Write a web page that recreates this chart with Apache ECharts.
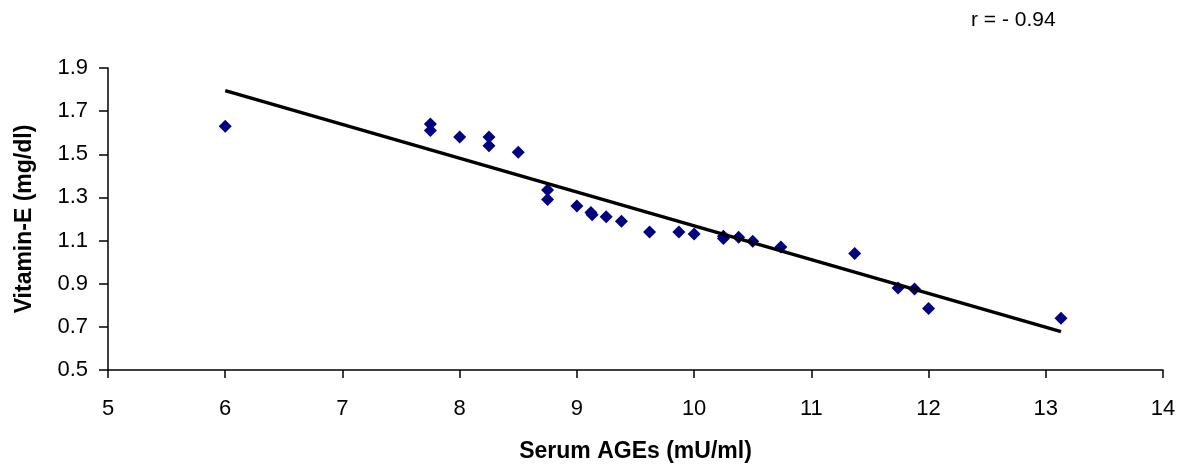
<!DOCTYPE html>
<html>
<head>
<meta charset="utf-8">
<script src="https://cdn.jsdelivr.net/npm/echarts@6/dist/echarts.min.js"></script>
<style>
html,body{margin:0;padding:0;background:#fff;}
#chart{width:1183px;height:468px;}
</style>
</head>
<body>
<div id="chart"></div>
<script>
// Serum AGEs (mU/ml)
var agesValues = [6.0, 7.75, 7.75, 8.0, 8.25, 8.25, 8.5, 8.75, 8.75, 9.0, 9.12, 9.13, 9.25, 9.38, 9.62, 9.87, 10.0, 10.25, 10.25, 10.38, 10.5, 10.74, 11.37, 11.74, 11.88, 12.0, 13.13];
// Vitamin-E (mg/dl)
var vitaminEValues = [1.63, 1.64, 1.61, 1.58, 1.58, 1.54, 1.51, 1.335, 1.29, 1.26, 1.23, 1.22, 1.21, 1.19, 1.14, 1.14, 1.13, 1.12, 1.11, 1.115, 1.097, 1.07, 1.04, 0.88, 0.875, 0.785, 0.74];
// Trend line end points
var trendX = [6.0, 13.13];
var trendY = [1.795, 0.678];
var xTicks = [5, 6, 7, 8, 9, 10, 11, 12, 13, 14];
var yTicks = [0.5, 0.7, 0.9, 1.1, 1.3, 1.5, 1.7, 1.9];
var annotation = 'r = - 0.94';

var font = 'Liberation Sans, Arial, sans-serif';
var scatterData = agesValues.map(function(x, i){ return [x, vitaminEValues[i]]; });
var trendData = trendX.map(function(x, i){ return [x, trendY[i]]; });

var chart = echarts.init(document.getElementById('chart'), null, {renderer:'canvas'});
chart.setOption({
  animation: false,
  backgroundColor: '#ffffff',
  grid: {left: 108, right: 20, top: 68, bottom: 95, containLabel: false},
  graphic: [{
    type: 'text', left: 971, top: 10,
    style: {text: annotation, font: '21px ' + font, fill: '#000'}
  }],
  xAxis: {
    type: 'value', min: 5, max: 14, interval: 1,
    name: 'Serum AGEs (mU/ml)', nameLocation: 'middle', nameGap: 70,
    nameTextStyle: {fontFamily: font, fontSize: 23, fontWeight: 'bold', color: '#000'},
    axisLine: {show: true, onZero: false, lineStyle: {color: '#000', width: 1.5}},
    axisTick: {show: true, inside: false, length: 8, lineStyle: {color: '#000', width: 1.5}},
    axisLabel: {fontFamily: font, fontSize: 22, color: '#000', margin: 28,
      formatter: function(v){ return xTicks.indexOf(v) >= 0 ? String(v) : ''; }},
    splitLine: {show: false}
  },
  yAxis: {
    type: 'value', min: 0.5, max: 1.9, interval: 0.2,
    name: 'Vitamin-E (mg/dl)', nameLocation: 'middle', nameGap: 72,
    nameTextStyle: {fontFamily: font, fontSize: 23, fontWeight: 'bold', color: '#000'},
    axisLine: {show: true, onZero: false, lineStyle: {color: '#000', width: 1.5}},
    axisTick: {show: true, inside: false, length: 9, lineStyle: {color: '#000', width: 1.5}},
    axisLabel: {fontFamily: font, fontSize: 22, color: '#000', margin: 20,
      formatter: function(v){
        var s = v.toFixed(1);
        return yTicks.map(function(t){return t.toFixed(1);}).indexOf(s) >= 0 ? s : '';
      }},
    splitLine: {show: false}
  },
  series: [
    {
      type: 'scatter', data: scatterData, symbol: 'diamond', symbolSize: [13, 13],
      itemStyle: {color: '#000080', opacity: 1}, z: 2
    },
    {
      type: 'line', data: trendData, symbol: 'none', showSymbol: false,
      lineStyle: {color: '#000', width: 3.5}, z: 3, silent: true
    }
  ]
});
</script>
</body>
</html>
